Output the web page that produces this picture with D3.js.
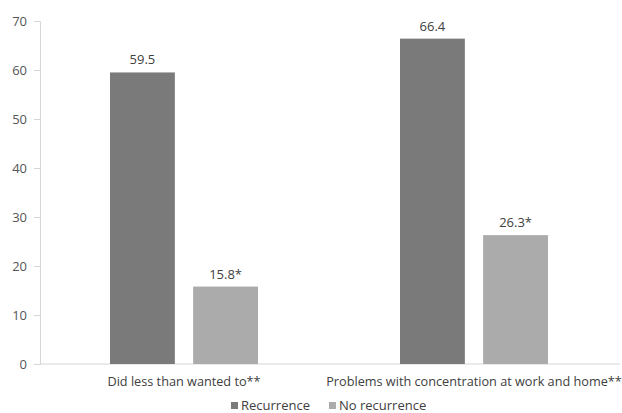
<!DOCTYPE html>
<html><head><meta charset="utf-8">
<script src="https://cdn.jsdelivr.net/npm/d3@7"></script>
<style>
html,body{margin:0;padding:0;background:#fff;}
text{font-family:"Open Sans",sans-serif;}
</style></head>
<body>
<svg id="chart" width="622" height="413"></svg>
<script>
const categories = ["Did less than wanted to**", "Problems with concentration at work and home**"];
const series = ["Recurrence", "No recurrence"];
const recurrence = [59.5, 66.4];
const noRecurrence = [15.8, 26.3];
const valueLabels = [["59.5", "15.8*"], ["66.4", "26.3*"]];
const yTicks = [0, 10, 20, 30, 40, 50, 60, 70];
const colors = ["#7a7a7a", "#ababab"];

const svg = d3.select("#chart");
const x0 = d3.scaleBand().domain(categories).range([40, 620]);
const x1 = d3.scaleBand().domain(series).range([70, 218]).paddingInner(0.22);
const y = d3.scaleLinear().domain([0, 70]).range([364, 21]);
const color = d3.scaleOrdinal().domain(series).range(colors);

// y axis
const yAxis = svg.append("g").attr("transform", "translate(40,0)")
  .call(d3.axisLeft(y).tickValues(yTicks).tickSize(6).tickPadding(7));
yAxis.select(".domain").attr("stroke", "#d6d6d6");
yAxis.selectAll(".tick line").attr("stroke", "#d6d6d6");
yAxis.selectAll(".tick text").attr("fill", "#555").style("font-size", "13px").style("font-family", "'Open Sans',sans-serif");

// x baseline
svg.append("line").attr("x1", 40).attr("x2", 620).attr("y1", y(0)).attr("y2", y(0))
  .attr("stroke", "#d6d6d6");

const data = categories.map((c, i) => ({
  cat: c,
  vals: [
    {s: series[0], v: recurrence[i], lab: valueLabels[i][0]},
    {s: series[1], v: noRecurrence[i], lab: valueLabels[i][1]}
  ]
}));

const g = svg.selectAll(".grp").data(data).join("g")
  .attr("transform", d => `translate(${x0(d.cat)},0)`);

g.selectAll("rect").data(d => d.vals).join("rect")
  .attr("x", d => x1(d.s)).attr("width", x1.bandwidth())
  .attr("y", d => y(d.v)).attr("height", d => y(0) - y(d.v))
  .attr("fill", d => color(d.s));

g.selectAll(".val").data(d => d.vals).join("text").attr("class", "val")
  .attr("x", d => x1(d.s) + x1.bandwidth() / 2)
  .attr("y", d => y(d.v) - 8)
  .attr("text-anchor", "middle").attr("fill", "#404040").style("font-size", "13px")
  .text(d => d.lab);

// category labels
g.append("text")
  .attr("x", x1.range()[0] + (x1.range()[1] - x1.range()[0]) / 2)
  .attr("y", 386)
  .attr("text-anchor", "middle").attr("fill", "#404040").style("font-size", "12.7px")
  .text(d => d.cat);

// legend
const legendX = [231, 329];
const lg = svg.selectAll(".lg").data(series).join("g")
  .attr("transform", (d, i) => `translate(${legendX[i]},0)`);
lg.append("rect").attr("x", 0).attr("y", 402).attr("width", 7).attr("height", 7)
  .attr("fill", d => color(d));
lg.append("text").attr("x", 10).attr("y", 410).attr("fill", "#404040")
  .style("font-size", "13px").text(d => d);
</script>
</body></html>
